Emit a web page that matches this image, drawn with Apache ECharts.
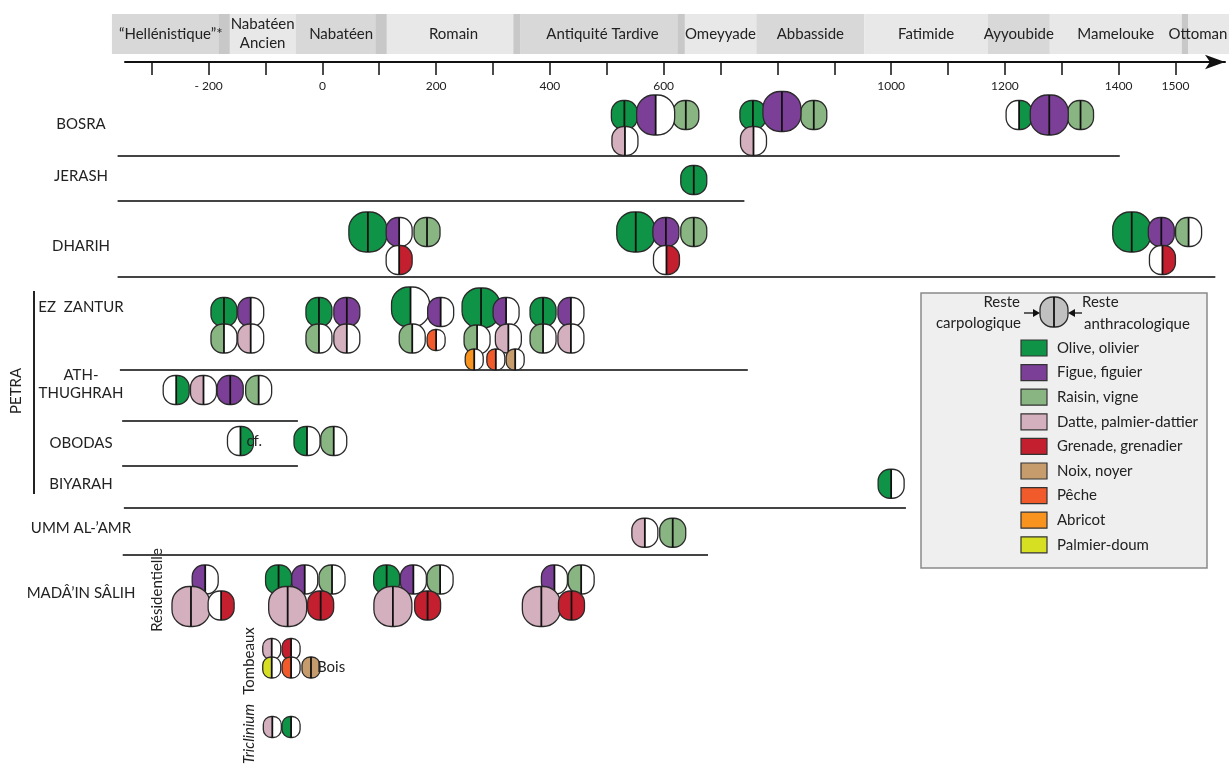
<!DOCTYPE html>
<html>
<head>
<meta charset="utf-8">
<script src="https://cdn.jsdelivr.net/npm/echarts@6/dist/echarts.min.js"></script>
<style>
html, body { margin: 0; padding: 0; background: #fff; }
#chart { width: 1229px; height: 767px; }
</style>
</head>
<body>
<div id="chart"></div>
<script>
// periods, years
const periodNames = ['\u201cHellénistique\u201d*', 'Nabatéen\nAncien', 'Nabatéen', 'Romain', 'Antiquité Tardive',
  'Omeyyade', 'Abbasside', 'Fatimide', 'Ayyoubide', 'Mamelouke', 'Ottoman']
const periodStart = [-370, -163, -47, 113, 348, 637, 763, 953, 1170, 1279, 1511]
const periodEnd = [-163, -47, 113, 348, 637, 763, 953, 1170, 1279, 1511, 1594]
const transitionStart = [-182, 94, 336, 625, 1511]
const transitionEnd = [-163, 113, 348, 637, 1522]

// time axis
const tickYears = [-300, -200, -100, 0, 100, 200, 300, 400, 500, 600, 700, 800, 900, 1000, 1100, 1200, 1300, 1400, 1500]
const tickLabels = [-200, 0, 200, 400, 600, 1000, 1200, 1400, 1500]

// taxa
const speciesKeys = ['olive', 'figue', 'raisin', 'datte', 'grenade', 'noix', 'peche', 'abricot', 'doum']
const speciesNames = ['Olive, olivier', 'Figue, figuier', 'Raisin, vigne', 'Datte, palmier-dattier',
  'Grenade, grenadier', 'Noix, noyer', 'Pêche', 'Abricot', 'Palmier-doum']

// sites (y in lanes)
const siteNames = ['BOSRA', 'JERASH', 'DHARIH', 'EZ  ZANTUR', 'ATH-\nTHUGHRAH', 'OBODAS', 'BIYARAH', 'UMM AL-\u2019AMR', 'MADÂ\u2019IN SÂLIH']
const siteLanes = [2.48, 4.56, 7.36, 9.8, 12.88, 15.24, 16.88, 18.64, 21.24]

// row separators: lane, from year, to year
const sepLanes = [3.76, 5.56, 8.6, 12.32, 14.36, 16.16, 17.84, 19.72]
const sepFrom = [-360, -360, -360, -356, -352, -352, -349, -351]
const sepTo = [1402, 742, 1570, 748, -43, -43, 1026, 678]

// remains: [year, lane, taxon, carpo, anthraco, size class]
const bosra = [
  [531, 2.12, 'olive', 1, 1, 'S'],
  [532, 3.16, 'datte', 1, 0, 'S'],
  [639, 2.12, 'raisin', 1, 1, 'S'],
  [586, 2.12, 'figue', 1, 0, 'L'],
  [757, 2.12, 'olive', 1, 1, 'S'],
  [758, 3.16, 'datte', 1, 0, 'S'],
  [864, 2.12, 'raisin', 1, 1, 'S'],
  [808, 1.98, 'figue', 1, 1, 'L'],
  [1225, 2.12, 'olive', 0, 1, 'S'],
  [1333, 2.12, 'raisin', 1, 1, 'S'],
  [1278, 2.12, 'figue', 1, 1, 'L']
]
const jerash = [
  [653, 4.72, 'olive', 1, 1, 'S']
]
const dharih = [
  [80, 6.8, 'olive', 1, 1, 'L'],
  [135, 6.8, 'figue', 1, 0, 'S'],
  [184, 6.8, 'raisin', 1, 1, 'S'],
  [135, 7.92, 'grenade', 0, 1, 'S'],
  [551, 6.8, 'olive', 1, 1, 'L'],
  [604, 6.8, 'figue', 1, 1, 'S'],
  [653, 6.8, 'raisin', 1, 1, 'S'],
  [605, 7.92, 'grenade', 0, 1, 'S'],
  [1423, 6.8, 'olive', 1, 1, 'L'],
  [1475, 6.8, 'figue', 1, 1, 'S'],
  [1523, 6.8, 'raisin', 1, 0, 'S'],
  [1477, 7.92, 'grenade', 0, 1, 'S']
]
const ezZantur = [
  [-173, 10.0, 'olive', 1, 1, 'S'],
  [-126, 10.0, 'figue', 1, 0, 'S'],
  [-173, 11.06, 'raisin', 1, 0, 'S'],
  [-126, 11.06, 'datte', 1, 0, 'S'],
  [-6, 10.0, 'olive', 1, 1, 'S'],
  [43, 10.0, 'figue', 1, 1, 'S'],
  [-6, 11.06, 'raisin', 1, 0, 'S'],
  [43, 11.06, 'datte', 1, 0, 'S'],
  [155, 9.8, 'olive', 1, 0, 'L'],
  [208, 10.0, 'figue', 1, 0, 'S'],
  [158, 11.06, 'raisin', 1, 0, 'S'],
  [200, 11.12, 'peche', 1, 0, 'XS'],
  [279, 9.84, 'olive', 1, 1, 'L'],
  [323, 10.0, 'figue', 1, 0, 'S'],
  [272, 11.1, 'raisin', 1, 0, 'S'],
  [327, 11.06, 'datte', 1, 0, 'S'],
  [267, 11.9, 'abricot', 1, 0, 'XS'],
  [305, 11.9, 'peche', 1, 0, 'XS'],
  [339, 11.9, 'noix', 1, 0, 'XS'],
  [388, 10.0, 'olive', 1, 1, 'S'],
  [437, 10.0, 'figue', 1, 0, 'S'],
  [388, 11.06, 'raisin', 1, 0, 'S'],
  [437, 11.06, 'datte', 1, 0, 'S']
]
const athThughrah = [
  [-257, 13.12, 'olive', 0, 1, 'S'],
  [-209, 13.12, 'datte', 1, 0, 'S'],
  [-162, 13.12, 'figue', 1, 1, 'S'],
  [-112, 13.12, 'raisin', 1, 0, 'S']
]
const obodas = [
  [-144, 15.16, 'olive', 0, 1, 'S'],
  [-27, 15.16, 'olive', 1, 0, 'S'],
  [20, 15.16, 'raisin', 1, 0, 'S']
]
const biyarah = [
  [1000, 16.87, 'olive', 1, 0, 'S']
]
const ummAlAmr = [
  [567, 18.83, 'datte', 1, 0, 'S'],
  [616, 18.83, 'raisin', 1, 1, 'S']
]
const madainRes = [
  [-206, 20.7, 'figue', 1, 0, 'S'],
  [-231, 21.78, 'datte', 1, 1, 'L'],
  [-178, 21.74, 'grenade', 0, 1, 'S'],
  [-77, 20.7, 'olive', 1, 1, 'S'],
  [-31, 20.7, 'figue', 1, 0, 'S'],
  [17, 20.7, 'raisin', 1, 0, 'S'],
  [-61, 21.78, 'datte', 1, 1, 'L'],
  [-3, 21.74, 'grenade', 1, 1, 'S'],
  [113, 20.7, 'olive', 1, 1, 'S'],
  [160, 20.7, 'figue', 1, 0, 'S'],
  [207, 20.7, 'raisin', 1, 0, 'S'],
  [124, 21.78, 'datte', 1, 1, 'L'],
  [185, 21.74, 'grenade', 1, 1, 'S'],
  [408, 20.7, 'figue', 1, 0, 'S'],
  [455, 20.7, 'raisin', 1, 0, 'S'],
  [385, 21.78, 'datte', 1, 1, 'L'],
  [438, 21.74, 'grenade', 1, 1, 'S']
]
const madainTomb = [
  [-89, 23.48, 'datte', 1, 0, 'XS'],
  [-55, 23.48, 'grenade', 1, 0, 'XS'],
  [-89, 24.22, 'doum', 1, 0, 'XS'],
  [-55, 24.22, 'peche', 1, 0, 'XS'],
  [-20, 24.22, 'noix', 1, 1, 'XS']
]
const madainTricl = [
  [-88, 26.6, 'datte', 1, 0, 'XS'],
  [-55, 26.6, 'olive', 1, 0, 'XS']
]
// small notes beside a glyph: [year, lane, text]
const notes = [
  [-144, 15.16, 'cf.'],
  [-20, 24.22, 'Bois']
]

const glyphs = [].concat(bosra, jerash, dharih, ezZantur, athThughrah, obodas, biyarah, ummAlAmr,
  madainRes, madainTomb, madainTricl)

// styles
const colors = {
  olive: '#0f9447', figue: '#7b3f98', raisin: '#89b583', datte: '#d4afbd', grenade: '#c41f2f',
  noix: '#c69c6d', peche: '#f15a2b', abricot: '#f7931e', doum: '#d7df22'
}
const sizes = { XS: [18, 21], S: [26, 29], L: [38, 40] }
const FONT = 'Lato, "Open Sans", sans-serif'

const glyphShapes = (cx, cy, w, h, left, right) => {
  const r = Math.min(w, h) * 0.45
  const x0 = cx - w / 2
  const y0 = cy - h / 2
  return [
    { type: 'rect', shape: { x: x0, y: y0, width: w / 2, height: h, r: [r, 0, 0, r] }, style: { fill: left } },
    { type: 'rect', shape: { x: cx, y: y0, width: w / 2, height: h, r: [0, r, r, 0] }, style: { fill: right } },
    { type: 'rect', shape: { x: x0, y: y0, width: w, height: h, r: r }, style: { fill: null, stroke: '#2a2a2a', lineWidth: 1.3 } },
    { type: 'line', shape: { x1: cx, y1: y0, x2: cx, y2: y0 + h }, style: { stroke: '#111', lineWidth: 1.8 } }
  ]
}

const renderGlyph = (params, api) => {
  const g = glyphs[params.dataIndex]
  const p = api.coord([api.value(0), api.value(1)])
  const sz = sizes[g[5]]
  const col = colors[g[2]]
  return { type: 'group', children: glyphShapes(p[0], p[1], sz[0], sz[1], g[3] ? col : '#fff', g[4] ? col : '#fff') }
}

const renderPeriod = (params, api) => {
  const i = params.dataIndex
  const x1 = api.coord([api.value(0), 0])[0]
  const x2 = api.coord([api.value(1), 0])[0]
  const fill = (i % 2 === 0 && i < 10) ? '#d8d8d8' : '#e8e8e8'
  return { type: 'rect', shape: { x: x1, y: 14, width: x2 - x1, height: 40 }, style: { fill: fill } }
}

const renderPeriodLabel = (params, api) => {
  const i = params.dataIndex
  const x1 = api.coord([api.value(0), 0])[0]
  const x2 = api.coord([api.value(1), 0])[0]
  let tx = (x1 + x2) / 2
  if (tx > 1190) tx = 1198
  return {
    type: 'text',
    style: { text: periodNames[i], x: tx, y: 34, align: 'center', verticalAlign: 'middle',
      font: '15px ' + FONT, fill: '#222', lineHeight: 19 }
  }
}

const renderTransition = (params, api) => {
  const x1 = api.coord([api.value(0), 0])[0]
  const x2 = api.coord([api.value(1), 0])[0]
  return { type: 'rect', shape: { x: x1, y: 14, width: x2 - x1, height: 40 }, style: { fill: '#c8c8c8' } }
}

const renderSep = (params, api) => {
  const p1 = api.coord([api.value(0), api.value(2)])
  const p2 = api.coord([api.value(1), api.value(2)])
  return { type: 'line', shape: { x1: p1[0], y1: p1[1], x2: p2[0], y2: p2[1] }, style: { stroke: '#444', lineWidth: 2 } }
}

const renderSite = (params, api) => {
  const p = api.coord([api.value(0), api.value(1)])
  return {
    type: 'text',
    style: { text: siteNames[params.dataIndex], x: 81, y: p[1], align: 'center', verticalAlign: 'middle',
      font: '15px ' + FONT, fill: '#222', lineHeight: 18 }
  }
}

const renderNote = (params, api) => {
  const p = api.coord([api.value(0), api.value(1)])
  return {
    type: 'text', z2: 20,
    style: { text: notes[params.dataIndex][2], x: p[0] + 6, y: p[1], align: 'left', verticalAlign: 'middle',
      font: '15px ' + FONT, fill: '#222' }
  }
}

// legend box
const legendGraphics = () => {
  const els = [
    { type: 'rect', shape: { x: 921, y: 293, width: 286, height: 275 }, style: { fill: '#efefef', stroke: '#8a8a8a', lineWidth: 1.5 } },
    { type: 'text', style: { text: 'Reste', x: 1020, y: 302, align: 'right', verticalAlign: 'middle', font: '15px ' + FONT, fill: '#222' } },
    { type: 'text', style: { text: 'carpologique', x: 1021, y: 323, align: 'right', verticalAlign: 'middle', font: '15px ' + FONT, fill: '#222' } },
    { type: 'text', style: { text: 'Reste', x: 1082, y: 302, align: 'left', verticalAlign: 'middle', font: '15px ' + FONT, fill: '#222' } },
    { type: 'text', style: { text: 'anthracologique', x: 1084, y: 324, align: 'left', verticalAlign: 'middle', font: '15px ' + FONT, fill: '#222' } },
    { type: 'line', shape: { x1: 1024, y1: 313, x2: 1036, y2: 313 }, style: { stroke: '#111', lineWidth: 1.3 } },
    { type: 'polygon', shape: { points: [[1033, 309], [1040, 313], [1033, 317]] }, style: { fill: '#111' } },
    { type: 'line', shape: { x1: 1082, y1: 313, x2: 1072, y2: 313 }, style: { stroke: '#111', lineWidth: 1.3 } },
    { type: 'polygon', shape: { points: [[1075, 309], [1068, 313], [1075, 317]] }, style: { fill: '#111' } }
  ]
  glyphShapes(1054, 312, 28, 30, '#c0c0c0', '#c0c0c0').forEach(e => els.push(e))
  speciesKeys.forEach((k, i) => {
    const y = 348 + i * 24.6
    els.push({ type: 'rect', shape: { x: 1021, y: y - 8, width: 26, height: 16 }, style: { fill: colors[k], stroke: '#333', lineWidth: 1.2 } })
    els.push({ type: 'text', style: { text: speciesNames[i], x: 1057, y: y, align: 'left', verticalAlign: 'middle', font: '15px ' + FONT, fill: '#222' } })
  })
  return els
}

const chart = echarts.init(document.getElementById('chart'))

chart.setOption({
  animation: false,
  backgroundColor: '#fff',
  grid: { left: 125, right: 4, top: 62, bottom: 0 },
  xAxis: {
    type: 'value', min: -347, max: 1587, position: 'top',
    axisLine: { show: true, symbol: ['none', 'arrow'], symbolSize: [11, 20], lineStyle: { color: '#111', width: 2 } },
    axisTick: { show: true, inside: true, length: 13, customValues: tickYears, lineStyle: { color: '#111', width: 1.5 } },
    axisLabel: {
      show: true, inside: true, margin: 18, customValues: tickLabels, color: '#222', fontSize: 12, fontFamily: FONT,
      formatter: v => (v < 0 ? '- ' + (-v) : String(v))
    },
    splitLine: { show: false }
  },
  yAxis: { type: 'value', min: 0, max: 28.2, inverse: true, show: false },
  series: [
    { type: 'custom', clip: false, silent: true, data: periodStart.map((s, i) => [s, periodEnd[i]]), renderItem: renderPeriod, z: 1 },
    { type: 'custom', clip: false, silent: true, data: transitionStart.map((s, i) => [s, transitionEnd[i]]), renderItem: renderTransition, z: 2 },
    { type: 'custom', clip: false, silent: true, data: periodStart.map((s, i) => [s, periodEnd[i]]), renderItem: renderPeriodLabel, z: 3 },
    { type: 'custom', clip: false, silent: true, data: sepLanes.map((l, i) => [sepFrom[i], sepTo[i], l]), renderItem: renderSep, z: 3 },
    { type: 'custom', clip: false, silent: true, data: siteLanes.map(l => [-347, l]), renderItem: renderSite, z: 3 },
    { type: 'custom', clip: false, silent: true, data: glyphs.map(g => [g[0], g[1]]), renderItem: renderGlyph, z: 5 },
    { type: 'custom', clip: false, silent: true, data: notes.map(n => [n[0], n[1]]), renderItem: renderNote, z: 6 }
  ],
  graphic: [
    { type: 'text', x: 16, y: 391, rotation: Math.PI / 2, style: { text: 'PETRA', align: 'center', verticalAlign: 'middle', font: '15px ' + FONT, fill: '#222' } },
    { type: 'line', shape: { x1: 34, y1: 291, x2: 34, y2: 494 }, style: { stroke: '#222', lineWidth: 2 } },
    { type: 'text', x: 157, y: 590, rotation: Math.PI / 2, style: { text: 'Résidentielle', align: 'center', verticalAlign: 'middle', font: '15px ' + FONT, fill: '#222' } },
    { type: 'text', x: 249, y: 661, rotation: Math.PI / 2, style: { text: 'Tombeaux', align: 'center', verticalAlign: 'middle', font: '15px ' + FONT, fill: '#222' } },
    { type: 'text', x: 249, y: 734, rotation: Math.PI / 2, style: { text: 'Triclinium', align: 'center', verticalAlign: 'middle', font: 'italic 15px ' + FONT, fill: '#222' } },
    { type: 'group', children: legendGraphics() }
  ]
})
</script>
</body>
</html>
